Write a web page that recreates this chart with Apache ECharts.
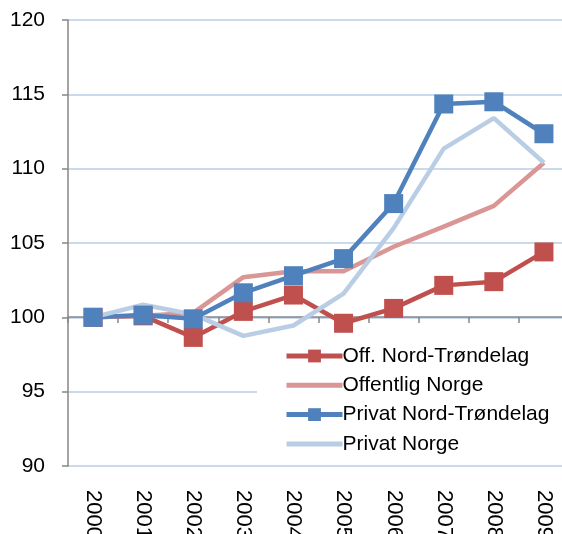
<!DOCTYPE html>
<html><head><meta charset="utf-8">
<script src="https://cdn.jsdelivr.net/npm/echarts@6/dist/echarts.min.js"></script>
<style>html,body{margin:0;padding:0;background:#fff}#c{width:562px;height:534px}</style>
</head><body><div id="c"></div>
<script>
const years = ['2000','2001','2002','2003','2004','2005','2006','2007','2008','2009'];
const offNT = [100, 100.1, 98.65, 100.4, 101.5, 99.6, 100.6, 102.15, 102.4, 104.4];
const offNorge = [100, 100.1, 100.3, 102.7, 103.1, 103.1, 104.75, 106.1, 107.5, 110.4];
const privNT = [100, 100.15, 99.9, 101.65, 102.8, 103.95, 107.65, 114.35, 114.5, 112.35];
const privNorge = [100, 100.85, 100.2, 98.75, 99.45, 101.6, 106.0, 111.35, 113.4, 110.4];
const yTicks = {min: 90, max: 120, interval: 5};

const F = 'Liberation Sans, Arial, sans-serif';
const chart = echarts.init(document.getElementById('c'), null, {renderer: 'canvas'});
function lineSeries(name, data, color, marker) {
  return {
    name, type: 'line', data, xAxisIndex: 0, yAxisIndex: 0,
    symbol: marker ? 'rect' : 'none', symbolSize: 19, showSymbol: marker,
    itemStyle: {color}, lineStyle: {color, width: 4.5}, animation: false, z: 3
  };
}
chart.setOption({
  animation: false,
  grid: [
    {left: 68, right: -7, top: 20, bottom: 68, outerBoundsMode: 'none', containLabel: false},
    {left: 68, right: -7, top: 20, bottom: 217, outerBoundsMode: 'none', containLabel: false}
  ],
  xAxis: [
    {type: 'category', gridIndex: 0, data: years, boundaryGap: true,
     axisLine: {show: false}, axisTick: {show: false},
     axisLabel: {rotate: -90, margin: 24, fontSize: 22, color: '#000', fontFamily: F}},
    {type: 'category', gridIndex: 1, data: years, boundaryGap: true,
     axisLine: {show: true, lineStyle: {color: '#868686', width: 1.5}},
     axisTick: {show: true, length: 6, lineStyle: {color: '#868686', width: 1.5}},
     axisLabel: {show: false}}
  ],
  yAxis: [
    {type: 'value', gridIndex: 0, min: yTicks.min, max: yTicks.max, interval: yTicks.interval,
     axisLine: {show: true, lineStyle: {color: '#868686', width: 1.5}},
     axisTick: {show: true, length: 6, lineStyle: {color: '#868686', width: 1.5}},
     splitLine: {show: true, lineStyle: {color: '#B9CDE5', width: 1.5}},
     axisLabel: {fontSize: 21, color: '#000', fontFamily: F, margin: 23}},
    {type: 'value', gridIndex: 1, min: yTicks.min, max: yTicks.max, show: false}
  ],
  legend: {
    orient: 'vertical', left: 257, top: 335,
    padding: [10, 30, 6, 27],
    backgroundColor: '#fff',
    itemWidth: 56, itemHeight: 16, itemGap: 7.3,
    lineStyle: {width: 5},
    textStyle: {fontSize: 21, color: '#000', fontFamily: F, lineHeight: 22, padding: [0, 0, 0, -5]},
    data: [
      {name: 'Off. Nord-Trøndelag'},
      {name: 'Offentlig Norge', itemStyle: {opacity: 0}},
      {name: 'Privat Nord-Trøndelag'},
      {name: 'Privat Norge', itemStyle: {opacity: 0}}
    ],
    z: 10
  },
  series: [
    lineSeries('Off. Nord-Trøndelag', offNT, '#C0504D', true),
    lineSeries('Offentlig Norge', offNorge, '#D99694', false),
    lineSeries('Privat Nord-Trøndelag', privNT, '#4F81BD', true),
    lineSeries('Privat Norge', privNorge, '#B9CDE5', false)
  ]
});
</script></body></html>
